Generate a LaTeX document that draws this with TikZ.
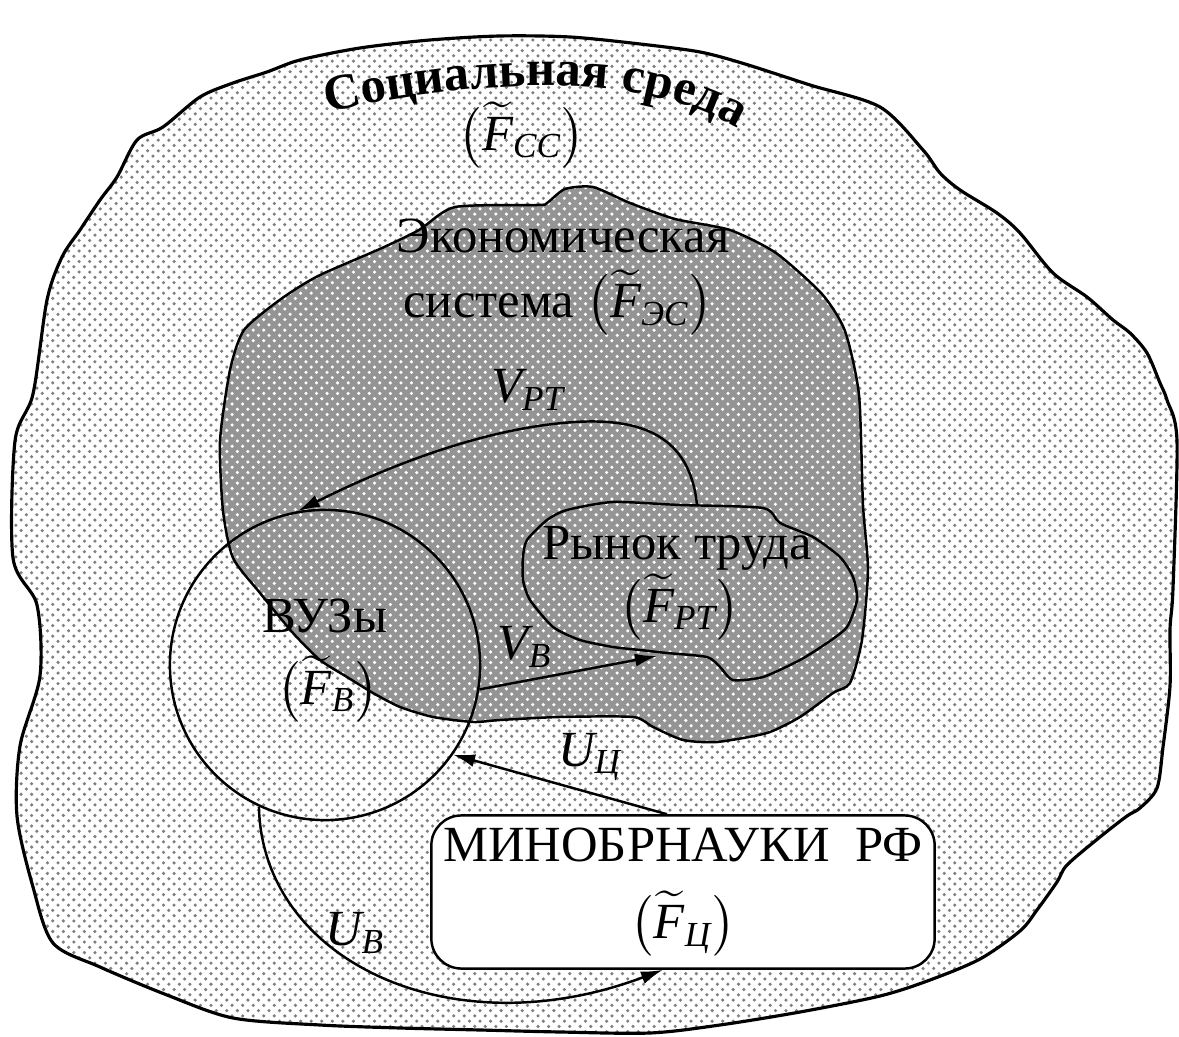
\documentclass[tikz,border=0pt]{standalone}
\usepackage{amsmath}
\usepackage{fontspec}
\setmainfont{Liberation Serif}
\usetikzlibrary{arrows.meta, positioning, patterns, decorations.text, calc}

\newcommand{\Ft}[1]{$\bigl(\widetilde{\text{\itshape F}}_{\text{\itshape #1}}\bigr)$}
\newcommand{\Vl}[2]{$\text{\itshape #1}_{\text{\itshape #2}}$}

\begin{document}
\begin{tikzpicture}[x=0.01cm, y=-0.01cm,
    socreg/.style={draw, line width=0.9pt, pattern=crosshatch dots, pattern color=black!50, preaction={fill=white}},
    ecoreg/.style={draw, line width=0.7pt, pattern=crosshatch dots, pattern color=white, preaction={fill=black!42}},
    lbl/.style={font=\fontsize{14.4}{18}\selectfont, inner sep=1pt, align=center},
    box/.style={draw, fill=white, rounded corners=3mm, line width=0.7pt, minimum width=5.03cm, minimum height=1.53cm, align=center, font=\fontsize{14.4}{18}\selectfont},
    arr/.style={-{Latex[length=2.2mm, width=1.3mm]}, line width=0.7pt}
]
    \useasboundingbox (0,0) rectangle (1179,1037);

    % social environment
    \path[socreg] plot[smooth cycle, tension=0.5] coordinates {
        (47,300) (62,257) (80,230) (100,200) (117,177) (137,140) (163,127) (200,97) (233,83) (267,72)
        (300,60) (360,48) (430,40) (500,36) (570,37) (640,44) (700,52) (745,64) (810,85) (880,107)
        (923,150) (940,173) (960,190) (997,213) (1020,233) (1053,273) (1087,297) (1113,320) (1130,333)
        (1147,353) (1160,383) (1167,400) (1177,441) (1173,588) (1170,629) (1170,686) (1163,747)
        (1157,788) (1140,808) (1127,816) (1100,837) (1067,865) (1057,882) (1037,910) (1020,931)
        (980,959) (930,980) (880,996) (800,1012) (720,1025) (650,1033) (560,1032) (480,1030)
        (400,1028) (320,1025) (233,1018) (167,995) (100,967) (53,943) (33,887) (17,816) (20,746)
        (40,676) (37,605) (13,558) (15,441) (33,394)};

    % economic system
    \path[ecoreg] plot[smooth cycle, tension=0.4] coordinates {
        (419,230) (455,207) (538,205) (547,203) (565,189) (593,187) (630,203) (675,219) (730,230)
        (776,253) (822,294) (845,331) (859,395) (863,505) (868,570) (862,640) (850,683) (833,693)
        (800,717) (767,733) (717,742) (683,740) (653,727) (633,717) (560,717) (500,720) (473,722)
        (433,717) (400,707) (373,693) (347,677) (320,660) (293,633) (260,593) (233,558) (223,511)
        (220,441) (230,370) (244,330) (281,299) (318,276) (382,248)};

    % labour market
    \path[ecoreg] plot[smooth cycle, tension=0.4] coordinates {
        (527,540) (547,520) (567,510) (613,502) (680,505) (763,508) (780,523) (813,537) (840,557)
        (853,577) (857,600) (847,627) (827,643) (800,660) (763,677) (733,680) (720,667) (707,657)
        (667,653) (640,650) (613,647) (580,640) (553,627) (530,600) (523,580) (523,557)};

    \node[draw, circle, line width=0.7pt, minimum size=3.1cm, inner sep=0pt] (vuz) at (325,665) {};
    \node[box] (minobr) at (683,892) {МИНОБРНАУКИ\ \ РФ\\[4pt]\Ft{Ц}};

    \coordinate (rttop) at (697,505);
    \coordinate (rtin) at (657,656);

    % titles
    \path[decorate, decoration={text along path, text align=center,
        text={|\fontsize{14.4}{18}\selectfont\bfseries|Социальная среда}}]
        (325,113) .. controls (470,80) and (640,68) .. (740,130);
    \node[lbl] (fcc) at (522,135) {\Ft{СС}};
    \node[lbl, anchor=base] (ekon) at (563,253) {Экономическая};
    \node[lbl, anchor=base] (ekon2) at (558,318) {система \Ft{ЭС}};
    \node[lbl, anchor=base] (rtlbl) at (677,560) {Рынок труда};
    \node[lbl] (frt) at (680,607) {\Ft{РТ}};
    \node[lbl, anchor=base] (vuzlbl) at (325,633) {ВУЗы};
    \node[lbl] (fb) at (328,689) {\Ft{В}};

    % flows
    \draw[arr] (rttop) .. controls (690,435) and (640,418) .. (575,422)
        .. controls (480,428) and (380,470) .. (vuz.100);
    \draw[arr] (vuz.-9) -- (rtin);
    \draw[arr] ([xshift=-1.6mm]minobr.north) -- (vuz.-35);
    \draw[arr] (vuz.-115) .. controls (262,960) and (450,1050) .. ([xshift=-2mm]minobr.south);

    \node[lbl] (vpt) at (528,390) {\Vl{V}{РТ}};
    \node[lbl] (vb) at (525,647) {\Vl{V}{В}};
    \node[lbl] (uc) at (590,757) {\Vl{U}{Ц}};
    \node[lbl] (ub) at (355,933) {\Vl{U}{В}};
\end{tikzpicture}
\end{document}
